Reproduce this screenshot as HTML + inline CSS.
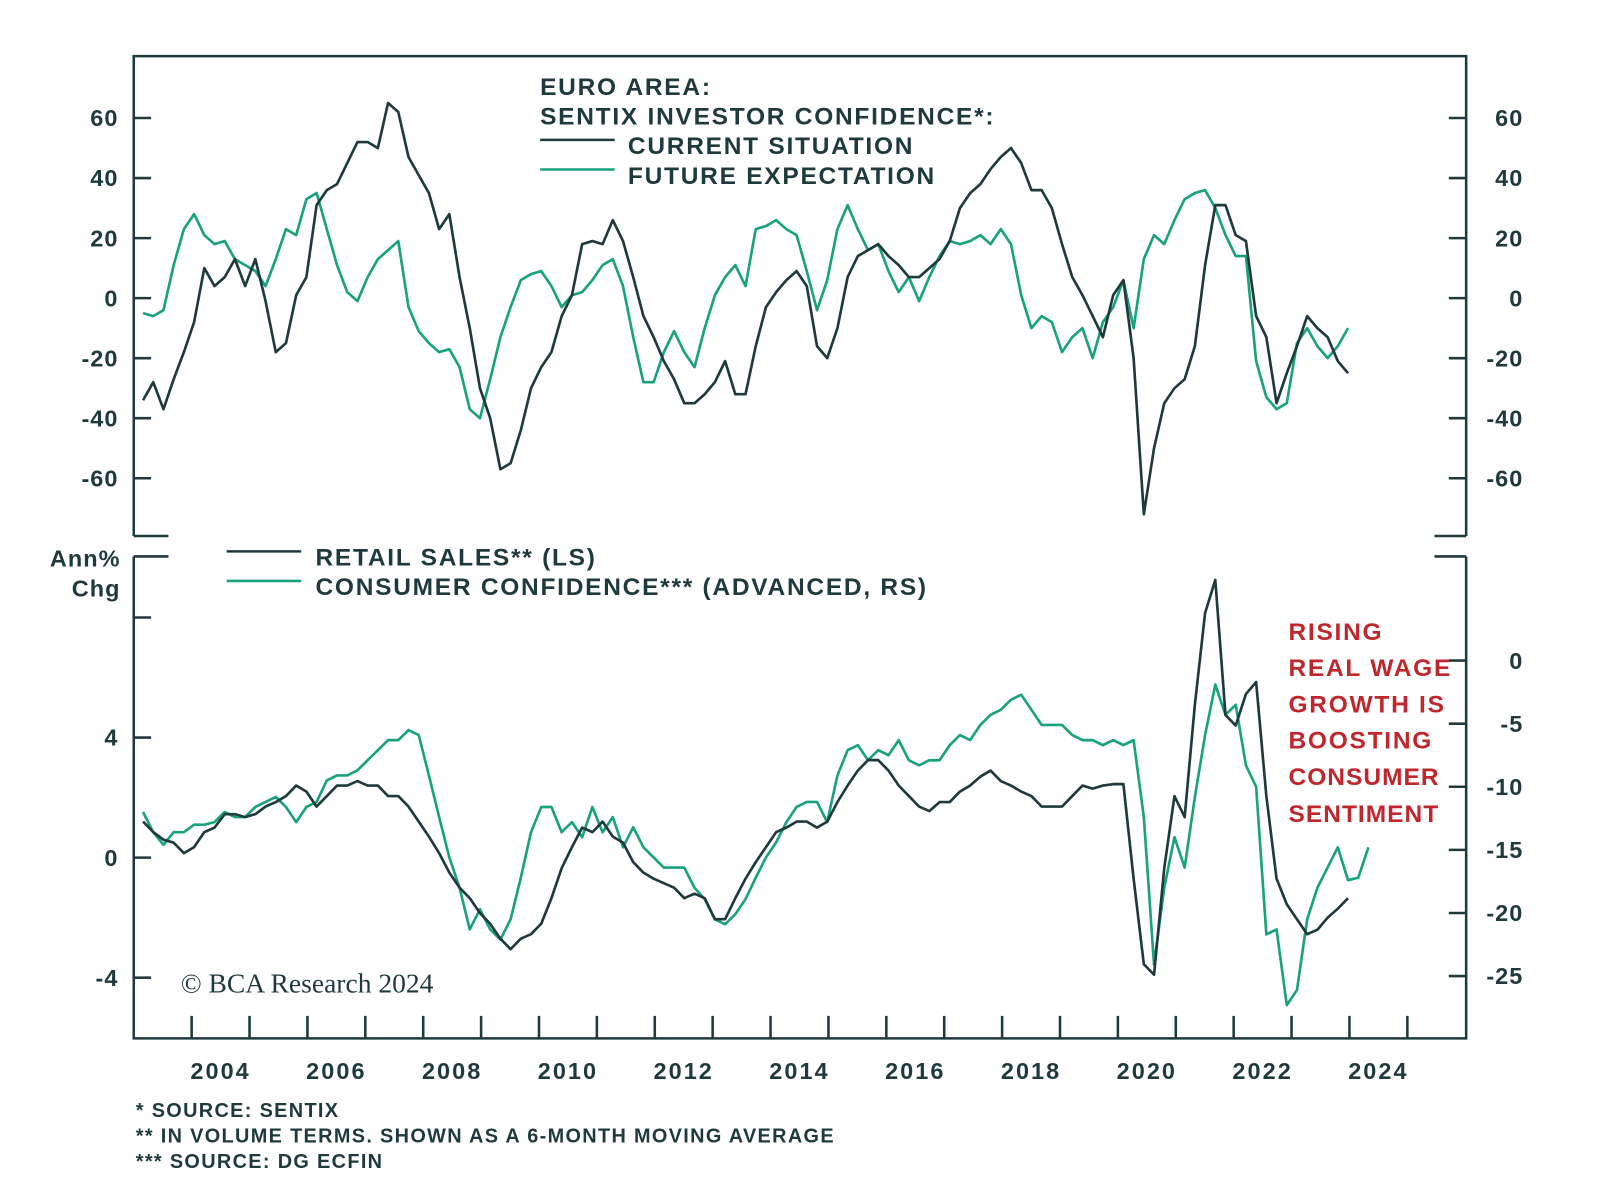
<!DOCTYPE html>
<html><head><meta charset="utf-8">
<style>
body{margin:0;background:#fff;}
svg text{font-family:"Liberation Sans",sans-serif;font-weight:bold;fill:#1f3a3d;}
.lg{font-size:24px;letter-spacing:1.7px;}
.tk{font-size:23px;letter-spacing:1px;}
.fn{font-size:19.5px;letter-spacing:1.3px;}
</style></head>
<body>
<svg id="chart" width="1600" height="1191" viewBox="0 0 1600 1191" xmlns="http://www.w3.org/2000/svg">
<g transform="scale(1.021)">
<g id="frames" stroke="#1f3a3d" stroke-width="2.5" fill="none">
<path d="M131 525 V55 H1436 V525"/>
<path d="M131 525 H165 M1405 525 H1436"/>
<path d="M131 545 V1017 H1436 V545"/>
<path d="M131 545 H165 M1405 545 H1436"/>
</g>
<g id="axes"></g>
<g id="series"></g>
<g>
<text class="lg" x="529" y="93">EURO AREA:</text>
<text class="lg" x="529" y="122">SENTIX INVESTOR CONFIDENCE*:</text>
<line x1="529" y1="137" x2="602" y2="137" stroke="#1f3a3d" stroke-width="2.5"/>
<text class="lg" x="615" y="151">CURRENT SITUATION</text>
<line x1="529" y1="166" x2="602" y2="166" stroke="#1aa37a" stroke-width="2.5"/>
<text class="lg" x="615" y="180">FUTURE EXPECTATION</text>
</g>
<g>
<line x1="222" y1="540" x2="295" y2="540" stroke="#1f3a3d" stroke-width="2.5"/>
<text class="lg" x="309" y="554">RETAIL SALES** (LS)</text>
<line x1="222" y1="569" x2="295" y2="569" stroke="#1aa37a" stroke-width="2.5"/>
<text class="lg" x="309" y="583">CONSUMER CONFIDENCE*** (ADVANCED, RS)</text>
<text class="tk" x="118" y="555" text-anchor="end">Ann%</text>
<text class="tk" x="118" y="584" text-anchor="end">Chg</text>
</g>
<g>
<text class="lg" x="1262" y="627" style="fill:#c0272d">RISING</text>
<text class="lg" x="1262" y="662" style="fill:#c0272d">REAL WAGE</text>
<text class="lg" x="1262" y="698" style="fill:#c0272d">GROWTH IS</text>
<text class="lg" x="1262" y="733" style="fill:#c0272d">BOOSTING</text>
<text class="lg" x="1262" y="769" style="fill:#c0272d;letter-spacing:1px">CONSUMER</text>
<text class="lg" x="1262" y="805" style="fill:#c0272d;letter-spacing:1px">SENTIMENT</text>
</g>
<text x="177" y="972" font-size="27" style="font-family:'Liberation Serif',serif;font-weight:normal">© BCA Research 2024</text>
<g>
<text class="fn" x="133" y="1094">*   SOURCE: SENTIX</text>
<text class="fn" x="133" y="1119">**  IN VOLUME TERMS. SHOWN AS A 6-MONTH MOVING AVERAGE</text>
<text class="fn" x="133" y="1144">*** SOURCE: DG ECFIN</text>
</g>
</g>
</svg>
<script>
const startYear = 2003.16;
const stepYears = 0.1764;
const currentSituation = [-34,-28,-37,-27,-18,-8,10,4,7,13,4,13,-1,-18,-15,1,7,31,36,38,45,52,52,50,65,62,47,41,35,23,28,7,-10,-30,-40,-57,-55,-44,-30,-23,-18,-6,1,18,19,18,26,19,7,-6,-13,-21,-27,-35,-35,-32,-28,-21,-32,-32,-16,-3,2,6,9,4,-16,-20,-10,7,14,16,18,14,11,7,7,10,13,19,30,35,38,43,47,50,45,36,36,30,18,7,1,-6,-13,1,6,-20,-72,-50,-35,-30,-27,-16,11,31,31,21,19,-6,-13,-35,-25,-16,-6,-10,-13,-21,-25];
const futureExpectation = [-5,-6,-4,11,23,28,21,18,19,13,11,9,4,13,23,21,33,35,23,11,2,-1,7,13,16,19,-3,-11,-15,-18,-17,-23,-37,-40,-27,-13,-3,6,8,9,4,-3,1,2,6,11,13,4,-13,-28,-28,-18,-11,-18,-23,-10,1,7,11,4,23,24,26,23,21,9,-4,6,23,31,23,16,18,9,2,7,-1,7,14,19,18,19,21,18,23,18,1,-10,-6,-8,-18,-13,-10,-20,-8,-3,6,-10,13,21,18,26,33,35,36,30,21,14,14,-21,-33,-37,-35,-15,-10,-16,-20,-16,-10];
const retailSales = [1.2,0.85,0.6,0.5,0.15,0.35,0.85,1.0,1.45,1.45,1.35,1.45,1.7,1.85,2.05,2.4,2.2,1.7,2.05,2.4,2.4,2.55,2.4,2.4,2.05,2.05,1.7,1.2,0.7,0.15,-0.5,-1.0,-1.35,-1.85,-2.2,-2.7,-3.05,-2.7,-2.55,-2.2,-1.35,-0.35,0.35,1.0,0.85,1.2,0.7,0.5,-0.15,-0.5,-0.7,-0.85,-1.0,-1.35,-1.2,-1.35,-2.05,-2.05,-1.35,-0.7,-0.15,0.35,0.85,1.0,1.2,1.2,1.0,1.2,1.85,2.4,2.9,3.25,3.25,2.9,2.4,2.05,1.7,1.55,1.85,1.85,2.2,2.4,2.7,2.9,2.55,2.4,2.2,2.05,1.7,1.7,1.7,2.05,2.4,2.3,2.4,2.45,2.45,-0.7,-3.55,-3.9,-0.35,2.05,1.35,5.1,8.15,9.25,4.75,4.4,5.45,5.85,2.05,-0.7,-1.55,-2.05,-2.55,-2.4,-2.0,-1.7,-1.35];
const consumerConfidence = [-12.0,-13.6,-14.6,-13.6,-13.6,-13.0,-13.0,-12.8,-12.0,-12.4,-12.4,-11.6,-11.2,-10.8,-11.6,-12.8,-11.6,-11.2,-9.5,-9.1,-9.1,-8.7,-7.9,-7.1,-6.3,-6.3,-5.5,-5.9,-9.1,-12.4,-15.6,-18.0,-21.3,-19.7,-21.3,-22.1,-20.5,-17.2,-13.6,-11.6,-11.6,-13.6,-12.8,-14.0,-11.6,-13.6,-12.4,-14.8,-13.2,-14.8,-15.6,-16.4,-16.4,-16.4,-18.0,-18.9,-20.5,-20.9,-20.1,-18.9,-17.2,-15.6,-14.4,-12.8,-11.6,-11.2,-11.2,-12.8,-9.1,-7.1,-6.7,-7.9,-7.1,-7.5,-6.3,-7.9,-8.3,-7.9,-7.9,-6.7,-5.9,-6.3,-5.1,-4.3,-3.9,-3.1,-2.7,-3.9,-5.1,-5.1,-5.1,-5.9,-6.3,-6.3,-6.7,-6.3,-6.7,-6.3,-12.4,-24.1,-18.0,-14.0,-16.4,-10.8,-5.9,-1.9,-4.3,-3.5,-8.3,-10.0,-21.7,-21.3,-27.3,-26.1,-20.5,-18.0,-16.4,-14.8,-17.4,-17.2,-14.8];
const topTicks = [60,40,20,0,-20,-40,-60];
const leftBottomTicks = [4,0,-4];
const rightBottomTicks = [0,-5,-10,-15,-20,-25];
const yearLabels = [2004,2006,2008,2010,2012,2014,2016,2018,2020,2022,2024];

const NS = 'http://www.w3.org/2000/svg';
const xScale = yr => 131 + (yr - 2003) * 56.7;
const yTop = v => 292 - v * 2.94;
const yBotL = v => 840 - v * 29.4;
const yBotR = v => 647 - v * 12.36;
const dateAt = i => startYear + i * stepYears;

const axes = document.getElementById('axes');
const series = document.getElementById('series');
function mk(tag, attrs, parent) {
  const el = document.createElementNS(NS, tag);
  for (const k in attrs) el.setAttribute(k, attrs[k]);
  parent.appendChild(el);
  return el;
}
const stroke = '#1f3a3d';
topTicks.forEach(v => {
  const y = yTop(v);
  const t1 = mk('line', {x1:131, x2:148, y1:y, y2:y, stroke:stroke, 'stroke-width':2.5}, axes);
  
  
  const t2 = mk('line', {x1:1419, x2:1436, y1:y, y2:y, stroke:stroke, 'stroke-width':2.5}, axes);
  
  
  const l1 = mk('text', {x:116, y:y + 8, 'text-anchor':'end', 'class':'tk'}, axes);
  l1.textContent = v;
  
  
  const l2 = mk('text', {x:1492, y:y + 8, 'text-anchor':'end', 'class':'tk'}, axes);
  l2.textContent = v;
  
  
});
[8].concat(leftBottomTicks).forEach(v => {
  const y = yBotL(v);
  const t = mk('line', {x1:131, x2:148, y1:y, y2:y, stroke:stroke, 'stroke-width':2.5}, axes);
  
  
});
leftBottomTicks.forEach(v => {
  const l = mk('text', {x:116, y:yBotL(v) + 8, 'text-anchor':'end', 'class':'tk'}, axes);
  l.textContent = v;
  
  
});
rightBottomTicks.forEach(v => {
  const y = yBotR(v);
  const t = mk('line', {x1:1419, x2:1436, y1:y, y2:y, stroke:stroke, 'stroke-width':2.5}, axes);
  
  
  const l = mk('text', {x:1492, y:y + 8, 'text-anchor':'end', 'class':'tk'}, axes);
  l.textContent = v;
  
  
});
for (let yr = 2004; yr <= 2025; yr++) {
  const x = xScale(yr);
  const t = mk('line', {x1:x, x2:x, y1:995, y2:1017, stroke:stroke, 'stroke-width':2.5}, axes);
  
  
}
yearLabels.forEach(yr => {
  const l = mk('text', {x:xScale(yr + 0.5), y:1057, 'text-anchor':'middle', 'class':'tk', style:'letter-spacing:2px'}, axes);
  l.textContent = yr;
  
  
});
function line(values, yf, color, name) {
  const d = values.map((v, i) => (i ? 'L' : 'M') + xScale(dateAt(i)).toFixed(1) + ' ' + yf(v).toFixed(1)).join(' ');
  const p = mk('path', {d:d, fill:'none', stroke:color, 'stroke-width':2.6, 'stroke-linejoin':'round'}, series);
  
  
}
line(futureExpectation, yTop, '#1aa37a', 'future-expectation-line');
line(currentSituation, yTop, '#1f3a3d', 'current-situation-line');
line(consumerConfidence, yBotR, '#1aa37a', 'consumer-confidence-line');
line(retailSales, yBotL, '#1f3a3d', 'retail-sales-line');
</script>
</body></html>
